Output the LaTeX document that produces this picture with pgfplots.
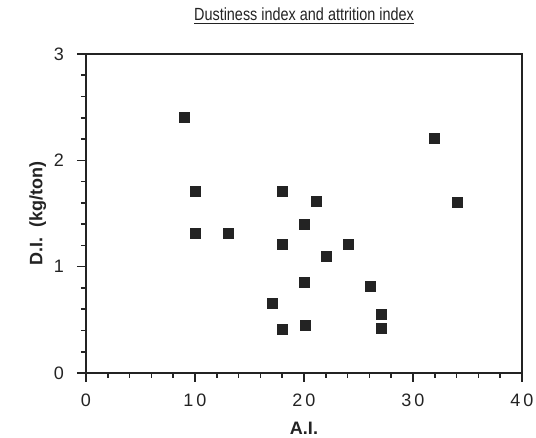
\documentclass[border=0pt]{standalone}
\usepackage{pgfplots}
\pgfplotsset{compat=1.18}
\usepackage{fontspec}
\setmainfont{Liberation Sans}
\newfontfamily\narrowfont[FakeStretch=0.82]{Liberation Sans}
\definecolor{ink}{RGB}{35,35,35}

\begin{document}
\begin{tikzpicture}
\begin{axis}[
    scale only axis, width=218pt, height=159.5pt,
    xmin=0, xmax=40, ymin=0, ymax=3,
    xtick={0,10,...,40}, ytick={0,1,2,3},
    minor x tick num=4, minor y tick num=4,
    tick align=outside, xtick pos=bottom, ytick pos=left,
    major tick length=4.5pt, minor tick length=2.5pt,
    axis line style={ink, line width=1.1pt},
    every tick/.style={ink, line width=0.8pt},
    /pgf/number format/assume math mode=true,
    tick label style={font=\fontsize{9}{10}\selectfont, text=ink},
    xticklabels={0,1\,0,2\,0,3\,0,4\,0},
    xticklabel style={yshift=-2.5pt},
    yticklabel style={xshift=-3pt},
    xlabel={\textbf{A.I.}}, ylabel={\textbf{D.I.\ \ (kg/ton)}},
    label style={font=\fontsize{9}{11}\selectfont, text=ink},
    xlabel style={yshift=-1pt},
    ylabel style={yshift=-3pt},
    title={\narrowfont\underline{Dustiness index and attrition index}},
    title style={font=\fontsize{8.8}{10}\selectfont, text=ink, yshift=5pt},
]
\addplot[only marks, mark=square*, mark size=2.5pt, mark options={fill=ink, draw=ink}]
coordinates {
    (9,2.40) (10,1.71) (10,1.31) (13.1,1.31)
    (18,1.71) (21.1,1.61) (20,1.40) (18,1.21)
    (24.1,1.21) (22.1,1.10) (20,0.85) (17.1,0.65)
    (18,0.41) (20.1,0.45) (26.1,0.81) (27.1,0.55)
    (27.1,0.42) (32,2.21) (34.1,1.60)
};
\end{axis}
\pgfresetboundingbox
\path ([shift={(-43pt,-32.5pt)}]current axis.south west) rectangle ([shift={(7pt,27pt)}]current axis.north east);
\end{tikzpicture}
\end{document}
